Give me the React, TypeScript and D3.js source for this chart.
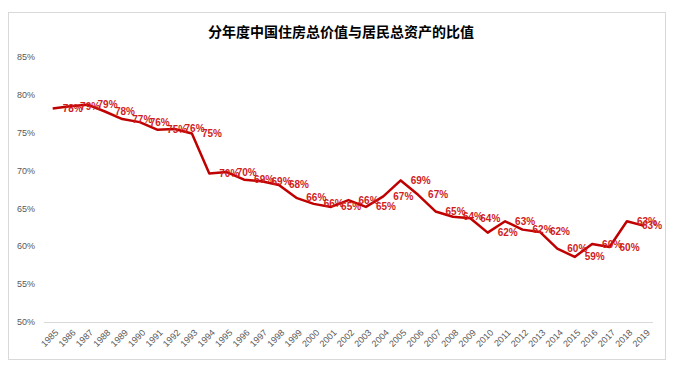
import React from 'react';
import * as d3 from 'd3';

const years = [
  '1985', '1986', '1987', '1988', '1989', '1990', '1991', '1992', '1993', '1994',
  '1995', '1996', '1997', '1998', '1999', '2000', '2001', '2002', '2003', '2004',
  '2005', '2006', '2007', '2008', '2009', '2010', '2011', '2012', '2013', '2014',
  '2015', '2016', '2017', '2018', '2019',
];
// ratio in percent
const ratio = [
  78.2, 78.5, 78.7, 77.8, 76.8, 76.4, 75.4, 75.5, 74.9, 69.6,
  69.8, 68.8, 68.6, 68.1, 66.4, 65.6, 65.2, 66.1, 65.2, 66.6,
  68.7, 66.8, 64.6, 63.9, 63.7, 61.8, 63.3, 62.2, 61.9, 59.7,
  58.6, 60.3, 59.9, 63.3, 62.7,
];
const yTicks = [50, 55, 60, 65, 70, 75, 80, 85];

const title = '分年度中国住房总价值与居民总资产的比值';

const W = 679, H = 369;
const plot = { left: 44, right: 653, top: 57, bottom: 322 };
const red = '#C00000';
const grey = '#595959';

export default function App() {
  const x = d3.scaleBand().domain(years).range([plot.left, plot.right]);
  const y = d3.scaleLinear().domain([50, 85]).range([plot.bottom, plot.top]);
  const cx = (i: number) => (x(years[i]) as number) + x.bandwidth() / 2;

  const line = d3.line<number>()
    .x((d, i) => cx(i))
    .y((d) => y(d));

  return (
    <svg width={W} height={H} style={{ position: 'absolute', left: 0, top: 0 }}
      fontFamily="'Liberation Sans', Arial, sans-serif">
      <rect x={8.5} y={12.5} width={657} height={347} fill="#fff" stroke="#d9d9d9" />
      <text x={341} y={37} textAnchor="middle" fontSize={14} fontWeight="bold"
        fontFamily="'Noto Sans CJK SC', sans-serif" fill="#000">{title}</text>

      {yTicks.map((t) => (
        <text key={t} x={35} y={y(t)} dy="0.35em" textAnchor="end" fontSize={9} fill={grey}>
          {t}%
        </text>
      ))}

      <line x1={plot.left} x2={plot.right} y1={plot.bottom + 0.5} y2={plot.bottom + 0.5}
        stroke="#d9d9d9" />

      {years.map((yr, i) => (
        <text key={yr} transform={`translate(${cx(i) + 4},${plot.bottom + 9}) rotate(-45)`}
          textAnchor="end" dy="0.35em" fontSize={9} fill={grey}>
          {yr}
        </text>
      ))}

      <path d={line(ratio) || ''} fill="none" stroke={red} strokeWidth={2.5}
        strokeLinejoin="round" />

      {ratio.map((v, i) => {
        const lx = Math.min(cx(i) + 10, 663 - 21);
        return (
          <text key={i} x={lx} y={y(v)} dy="0.35em" fontSize={10} fontWeight="bold"
            fill="#D01C1C">
            {Math.round(v)}%
          </text>
        );
      })}
    </svg>
  );
}
